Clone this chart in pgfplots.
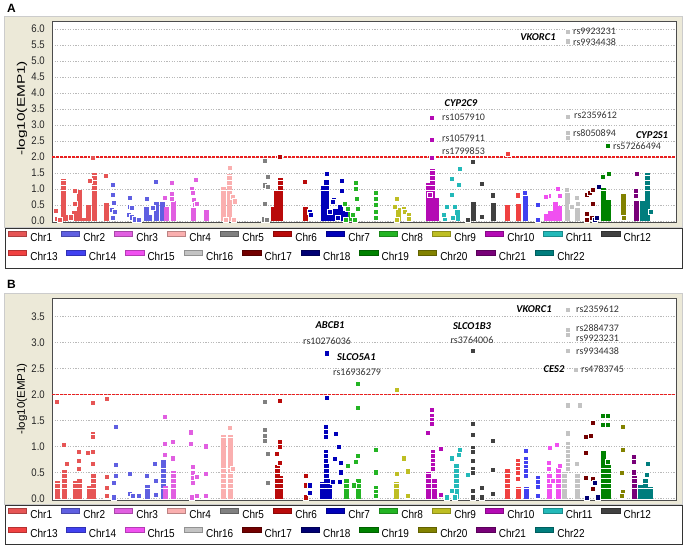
\documentclass[border=0pt]{standalone}
\usepackage{fontspec}
\usepackage{graphicx}
\usepackage{pgfplots}
\pgfplotsset{compat=1.18}
\setmainfont{Liberation Sans}
\newfontfamily\legfont{Liberation Sans}[FakeStretch=0.87]
\newfontfamily\calfont{Carlito}
\definecolor{c1}{RGB}{230,85,85}
\definecolor{c2}{RGB}{95,95,225}
\definecolor{c3}{RGB}{225,95,225}
\definecolor{c4}{RGB}{250,175,175}
\definecolor{c5}{RGB}{128,128,128}
\definecolor{c6}{RGB}{185,10,10}
\definecolor{c7}{RGB}{0,0,185}
\definecolor{c8}{RGB}{35,180,35}
\definecolor{c9}{RGB}{190,190,35}
\definecolor{c10}{RGB}{180,10,180}
\definecolor{c11}{RGB}{35,185,185}
\definecolor{c12}{RGB}{65,65,65}
\definecolor{c13}{RGB}{240,65,65}
\definecolor{c14}{RGB}{65,65,240}
\definecolor{c15}{RGB}{240,80,240}
\definecolor{c16}{RGB}{195,195,195}
\definecolor{c17}{RGB}{115,0,0}
\definecolor{c18}{RGB}{0,0,115}
\definecolor{c19}{RGB}{0,130,0}
\definecolor{c20}{RGB}{130,130,0}
\definecolor{c21}{RGB}{120,0,120}
\definecolor{c22}{RGB}{0,125,125}
\definecolor{beige}{RGB}{236,233,216}
\definecolor{thr}{RGB}{235,30,30}
\tikzset{
 rs/.style={font=\calfont\fontsize{10bp}{12bp}\selectfont, text=black!80, inner sep=0pt},
 gene/.style={font=\calfont\bfseries\itshape\fontsize{10.5bp}{12bp}\selectfont, inner sep=0pt},
}
\pgfplotsset{
 pts/.style={only marks, mark=square*, mark size=2.55bp, mark options={draw=white, line width=0.3bp}},
 col/.style={ycomb, no marks, line width=5bp, dash pattern=on 4.6bp off 0.5bp},
 thrline/.style={thr, line width=1.2bp, dash pattern=on 2.5bp off 1.5bp},
 panel/.style={scale only axis, width=624bp, anchor=south west, xmin=52, xmax=676,
   xtick=\empty, major tick length=0pt, ymajorgrids,
   grid style={gray!55, line width=0.5bp, dash pattern=on 1.2bp off 1.4bp},
   axis background/.style={fill=white},
   axis line style={draw=gray!60!black, line width=0.8bp},
   yticklabel style={/pgf/number format/fixed, /pgf/number format/fixed zerofill, /pgf/number format/precision=1, /pgf/number format/assume math mode=true},
   yticklabel style={font=\legfont\fontsize{11bp}{13bp}\selectfont, inner sep=0pt, xshift=-7bp, text=black!85},
   ylabel style={anchor=center, font=\fontsize{11bp}{13bp}\selectfont},
   clip mode=individual},
 legrow/.style={hide axis, scale only axis, width=687bp, height=548bp, xmin=0, xmax=687, ymin=0, ymax=548,
   at={(0bp,0bp)}, anchor=south west, legend columns=-1,
   legend image code/.code={\filldraw[##1, line width=0.5bp] (0bp,1.3bp) rectangle (18.5bp,6.3bp);},
   legend style={draw=none, fill=none, inner sep=0pt, outer sep=0pt,
     font=\legfont\fontsize{11.5bp}{13bp}\selectfont,
     nodes={inner sep=0pt, outer sep=0pt},
     /tikz/every odd column/.style={column sep=3.5bp},
     /tikz/every even column/.style={column sep=8.8bp}, anchor=west}},
}
\newcommand\legrowone{%
\addlegendimage{fill=c1,draw=c1!75!black}\addlegendentry{Chr1}
\addlegendimage{fill=c2,draw=c2!75!black}\addlegendentry{Chr2}
\addlegendimage{fill=c3,draw=c3!75!black}\addlegendentry{Chr3}
\addlegendimage{fill=c4,draw=c4!75!black}\addlegendentry{Chr4}
\addlegendimage{fill=c5,draw=c5!75!black}\addlegendentry{Chr5}
\addlegendimage{fill=c6,draw=c6!75!black}\addlegendentry{Chr6}
\addlegendimage{fill=c7,draw=c7!75!black}\addlegendentry{Chr7}
\addlegendimage{fill=c8,draw=c8!75!black}\addlegendentry{Chr8}
\addlegendimage{fill=c9,draw=c9!75!black}\addlegendentry{Chr9}
\addlegendimage{fill=c10,draw=c10!75!black}\addlegendentry{Chr10}
\addlegendimage{fill=c11,draw=c11!75!black}\addlegendentry{Chr11}
\addlegendimage{fill=c12,draw=c12!75!black}\addlegendentry{Chr12}}
\newcommand\legrowtwo{%
\addlegendimage{fill=c13,draw=c13!75!black}\addlegendentry{Chr13}
\addlegendimage{fill=c14,draw=c14!75!black}\addlegendentry{Chr14}
\addlegendimage{fill=c15,draw=c15!75!black}\addlegendentry{Chr15}
\addlegendimage{fill=c16,draw=c16!75!black}\addlegendentry{Chr16}
\addlegendimage{fill=c17,draw=c17!75!black}\addlegendentry{Chr17}
\addlegendimage{fill=c18,draw=c18!75!black}\addlegendentry{Chr18}
\addlegendimage{fill=c19,draw=c19!75!black}\addlegendentry{Chr19}
\addlegendimage{fill=c20,draw=c20!75!black}\addlegendentry{Chr20}
\addlegendimage{fill=c21,draw=c21!75!black}\addlegendentry{Chr21}
\addlegendimage{fill=c22,draw=c22!75!black}\addlegendentry{Chr22}}
\begin{document}
\begin{tikzpicture}[x=1bp,y=1bp]
\useasboundingbox (0,0) rectangle (687,548);
% frames
\fill[beige, draw=gray!40] (4,321) rectangle (682,532);
\fill[beige, draw=gray!40] (4,44) rectangle (682,255);
\draw[black!80, line width=0.8bp, fill=white] (5,280) rectangle (682,320);
\draw[black!80, line width=0.8bp, fill=white] (5,4) rectangle (682,43);
\node[font=\bfseries\fontsize{12bp}{14bp}\selectfont] at (11.5,540) {A};
\node[font=\bfseries\fontsize{12bp}{14bp}\selectfont] at (11.5,264) {B};

% ---------------- Panel A ----------------
\begin{axis}[panel, height=201bp, at={(52bp,326bp)}, ymin=-0.03, ymax=6.25,
  ytick={0,0.5,...,6}, ylabel={\scalebox{1.4}[1]{-log10(EMP1)}},
  ylabel style={at={(axis description cs:-0.048,0.565)}}]
\addplot[thrline] coordinates {(52,2)(676,2)};
\addplot[c1,col] coordinates {(63,1.32)(66,0.2)(74,0.3)(79,0.98)(88,0.5)(94,1.5)(106,0.55)(83,0.1)};
\addplot[c1,pts] coordinates {(56,0.32)(57,0.08)(60,0.05)(75,0.95)(93,1.97)(90,1.25)(106,1.41)(75,0.55)(71,0.12)};
\addplot[c2,col] coordinates {(146,0.45)(156,0.6)(162,0.6)(149,0.2)};
\addplot[c2,pts] coordinates {(113,1.14)(113,0.82)(114,0.58)(112,0.36)(115,0.3)(113,0.1)(130,0.72)(130,0.45)(132,0.42)(129,0.2)(132,0.12)(135,0.06)(139,0.03)(147,0.71)(156,1.24)(153,0.42)};
\addplot[c3,col] coordinates {(173,0.62)(166,0.45)(193,0.42)(206,0.34)};
\addplot[c3,pts] coordinates {(172,1.2)(172,0.86)(172,0.7)(165,0.72)(196,1.3)(192,1.02)(193,0.9)(194,0.68)(195,0.5)(197,0.55)};
\addplot[c4,col] coordinates {(223,1.07)(229,1.47)};
\addplot[c4,pts] coordinates {(230,1.68)(233,0.75)(235,0.62)(226,0.05)(234,0.05)};
\addplot[c5,pts] coordinates {(265,1.9)(268,1.38)(265,1.12)(268,1.08)(265,0.53)(264,0.06)(267,0.05)};
\addplot[c6,col] coordinates {(280,1.33)(276,0.95)(273,0.45)(305,0.45)};
\addplot[c6,pts] coordinates {(280,2.01)(305,1.22)};
\addplot[c7,col] coordinates {(326,1.28)(323,1.08)(340,0.5)(335,0.38)(329,0.38)(332,0.32)(345,0.3)};
\addplot[c7,pts] coordinates {(310,0.3)(311,0.2)(327,1.47)(334,0.68)(333,0.6)(342,1.25)(342,0.95)(338,0.1)(330,0.3)};
\addplot[c8,col] coordinates {(350,0.28)};
\addplot[c8,pts] coordinates {(345,0.55)(348,0.4)(346,0.05)(356,1.2)(356,1.0)(357,0.7)(358,0.4)(355,0.05)(353,0.2)(376,0.9)(376,0.7)(376,0.5)(376,0.3)(376,0.1)};
\addplot[c9,col] coordinates {(398,0.42)};
\addplot[c9,pts] coordinates {(397,0.71)(395,0.45)(404,0.4)(405,0.3)(409,0.2)(409,0.08)(397,0.05)};
\addplot[c10,col] coordinates {(432,1.62)(428,1.18)(436,0.72)};
\addplot[c10,pts] coordinates {(432,3.24)(432,2.55)(432,1.98)(430,0.82)};
\addplot[c11,col] coordinates {(457,0.35)};
\addplot[c11,pts] coordinates {(460,1.64)(452,1.33)(459,1.15)(452,0.82)(447,0.45)(455,0.45)(445,0.08)(453,0.1)(444,0.2)};
\addplot[c12,col] coordinates {(473,0.6)(493,0.55)};
\addplot[c12,pts] coordinates {(473,1.85)(482,1.18)(493,0.81)(482,0.13)(468,0.03)};
\addplot[c13,col] coordinates {(507,0.5)(518,0.52)};
\addplot[c13,pts] coordinates {(508,2.11)(518,0.81)};
\addplot[c14,col] coordinates {(525,0.8)};
\addplot[c14,pts] coordinates {(525,0.9)(538,0.5)(538,0.05)};
\addplot[c15,col] coordinates {(555,0.58)(550,0.32)(559,0.48)(546,0.22)};
\addplot[c15,pts] coordinates {(549,0.8)(558,1.0)(560,0.8)(546,0.75)};
\addplot[c16,col] coordinates {(567,0.92)(577,0.4)};
\addplot[c16,pts] coordinates {(568,5.91)(568,5.62)(568,3.26)(568,2.75)(568,2.6)(567,0.98)(577,0.73)(578,0.55)(572,0.45)};
\addplot[c17,pts] coordinates {(587,0.83)(590,0.88)(593,0.97)(593,0.55)(587,0.22)(587,0.05)(592,0.1)};
\addplot[c18,pts] coordinates {(599,1.08)(595,0.05)(597,0.1)};
\addplot[c19,col] coordinates {(603,1.02)(608,0.65)};
\addplot[c19,pts] coordinates {(608,2.35)(603,1.38)(609,1.47)};
\addplot[c20,col] coordinates {(623,0.85)};
\addplot[c20,pts] coordinates {(624,0.1)};
\addplot[c21,col] coordinates {(636,0.62)};
\addplot[c21,pts] coordinates {(637,1.47)(636,0.95)(636,0.8)};
\addplot[c22,col] coordinates {(647,1.5)(642,0.64)};
\addplot[c22,pts] coordinates {(651,0.3)};
\node[gene] at (axis cs:538,5.75) {VKORC1};
\node[rs,anchor=west] at (axis cs:573,5.93) {rs9923231};
\node[rs,anchor=west] at (axis cs:573,5.6) {rs9934438};
\node[gene] at (axis cs:461,3.67) {CYP2C9};
\node[rs,anchor=west] at (axis cs:442,3.24) {rs1057910};
\node[rs,anchor=west] at (axis cs:442,2.6) {rs1057911};
\node[rs,anchor=west] at (axis cs:442,2.17) {rs1799853};
\node[rs,anchor=west] at (axis cs:574,3.3) {rs2359612};
\node[rs,anchor=west] at (axis cs:573,2.75) {rs8050894};
\node[gene] at (axis cs:652,2.7) {CYP2S1};
\node[rs,anchor=west] at (axis cs:613,2.35) {rs57266494};
\end{axis}

% ---------------- Panel B ----------------
\begin{axis}[panel, height=202bp, at={(52bp,48bp)}, ymin=-0.025, ymax=3.86,
  ytick={0,0.5,...,3.5}, ylabel={\scalebox{1.05}[1]{-log10(EMP1)}},
  ylabel style={at={(axis description cs:-0.048,0.5)}}]
\addplot[thrline] coordinates {(52,2)(676,2)};
\addplot[c1,col] coordinates {(57,0.34)(64,0.55)(79,0.39)(75,0.34)(93,0.49)(89,0.24)};
\addplot[c1,pts] coordinates {(57,1.87)(64,1.04)(67,0.68)(79,0.91)(79,0.74)(79,0.57)(93,1.84)(93,1.25)(93,1.19)(93,0.9)(88,0.88)(93,0.68)(107,1.93)(107,0.43)(107,0.22)(107,0.05)};
\addplot[c2,col] coordinates {(147,0.26)(163,0.74)};
\addplot[c2,pts] coordinates {(116,1.39)(116,0.65)(116,0.45)(114,0.3)(114,0.03)(130,0.48)(130,0.1)(133,0.05)(139,0.05)(147,0.45)(155,0.68)(156,0.35)(156,0.08)};
\addplot[c3,col] coordinates {(173,0.54)(165,0.24)};
\addplot[c3,pts] coordinates {(165,1.58)(165,1.06)(165,0.85)(173,1.09)(173,0.78)(191,1.28)(191,1.06)(193,0.62)(193,0.5)(193,0.4)(193,0.3)(197,0.42)(192,0.03)(197,0.05)(206,1.01)(206,0.48)(206,0.05)};
\addplot[c4,col] coordinates {(223,1.22)(230,1.22)};
\addplot[c4,pts] coordinates {(230,1.36)(233,0.57)};
\addplot[c5,pts] coordinates {(265,1.87)(265,1.32)(265,1.22)(265,1.12)(268,0.87)(268,0.3)};
\addplot[c6,col] coordinates {(277,0.64)(280,0.44)};
\addplot[c6,pts] coordinates {(280,1.89)(280,1.1)(280,1.0)(277,0.87)(280,0.7)(306,0.45)(306,0.26)(306,0.03)};
\addplot[c7,col] coordinates {(326,0.68)(329,0.37)(322,0.32)};
\addplot[c7,pts] coordinates {(310,0.26)(310,0.12)(327,2.8)(327,1.95)(336,1.25)(339,1.0)(335,0.77)(341,0.7)(341,0.51)(333,0.32)(340,0.32)(326,1.38)(326,1.29)(326,1.2)(326,0.9)(326,0.82)(326,0.74)};
\addplot[c8,col] coordinates {(346,0.38)(358,0.38)};
\addplot[c8,pts] coordinates {(348,0.64)(358,2.21)(358,1.75)(358,0.83)(356,0.71)(354,0.26)(376,0.95)(376,0.51)(376,0.22)(376,0.13)(376,0.05)};
\addplot[c9,col] coordinates {(396,0.32)};
\addplot[c9,pts] coordinates {(397,2.1)(404,0.78)(397,0.48)(408,0.53)(408,0.05)};
\addplot[c10,col] coordinates {(428,0.52)(434,0.37)};
\addplot[c10,pts] coordinates {(432,1.71)(432,1.6)(432,1.51)(432,1.44)(428,1.27)(441,0.97)(433,0.9)(433,0.82)(433,0.74)(433,0.66)(433,0.57)(441,0.07)};
\addplot[c11,col] coordinates {(456,0.67)};
\addplot[c11,pts] coordinates {(460,0.95)(459,0.84)(452,0.78)(468,0.47)(452,0.16)(447,0.03)(455,0.03)};
\addplot[c12,pts] coordinates {(473,2.84)(473,1.44)(473,1.24)(473,0.99)(473,0.9)(473,0.74)(473,0.57)(473,0.5)(473,0.16)(473,0.03)(482,0.22)(482,0.03)(493,1.12)(493,0.55)(493,0.09)};
\addplot[c13,col] coordinates {(507,0.57)(518,0.22)};
\addplot[c13,pts] coordinates {(518,0.74)(518,0.66)(518,0.58)(518,0.5)(518,0.38)};
\addplot[c14,col] coordinates {(526,0.22)};
\addplot[c14,pts] coordinates {(526,0.93)(526,0.77)(526,0.69)(526,0.61)(526,0.53)(526,0.45)(538,0.4)(538,0.32)(538,0.24)(538,0.05)};
\addplot[c15,col] coordinates {(549,0.47)(558,0.59)};
\addplot[c15,pts] coordinates {(550,0.99)(557,1.04)(560,0.64)(549,0.7)(549,0.57)(553,0.35)};
\addplot[c16,col] coordinates {(564,0.52)(577,0.49)};
\addplot[c16,pts] coordinates {(568,3.63)(568,3.25)(568,3.15)(568,2.84)(576,2.49)(568,1.8)(580,1.8)(568,1.26)(568,1.06)(568,0.98)(568,0.9)(568,0.82)(568,0.74)(568,0.65)(568,0.57)(577,0.68)};
\addplot[c17,pts] coordinates {(593,1.47)(591,1.22)(586,1.19)(586,0.88)(586,0.4)(593,0.38)(593,0.2)};
\addplot[c18,pts] coordinates {(595,0.3)(598,0.03)(587,0.02)};
\addplot[c19,col] coordinates {(603,0.91)(608,0.64)};
\addplot[c19,pts] coordinates {(603,1.59)(608,1.59)(603,1.42)(608,1.42)(608,0.71)};
\addplot[c20,pts] coordinates {(623,1.39)(623,0.95)(622,0.5)(623,0.13)(622,0.05)};
\addplot[c21,col] coordinates {(634,0.44)};
\addplot[c21,pts] coordinates {(634,0.8)(634,0.71)(634,0.51)};
\addplot[c22,col] coordinates {(645,0.37)(640,0.27)(650,0.22)};
\addplot[c22,pts] coordinates {(648,0.68)(647,0.46)};
\node[gene] at (axis cs:330,3.34) {ABCB1};
\node[rs,anchor=west] at (axis cs:303,3.03) {rs10276036};
\node[gene,anchor=west] at (axis cs:337,2.72) {SLCO5A1};
\node[rs,anchor=west] at (axis cs:333,2.44) {rs16936279};
\node[gene] at (axis cs:472,3.32) {SLCO1B3};
\node[rs] at (axis cs:472,3.04) {rs3764006};
\node[gene] at (axis cs:534,3.65) {VKORC1};
\node[rs,anchor=west] at (axis cs:576,3.65) {rs2359612};
\node[rs,anchor=west] at (axis cs:576,3.28) {rs2884737};
\node[rs,anchor=west] at (axis cs:576,3.08) {rs9923231};
\node[rs,anchor=west] at (axis cs:576,2.84) {rs9934438};
\node[gene] at (axis cs:554,2.49) {CES2};
\node[rs,anchor=west] at (axis cs:581,2.49) {rs4783745};
\end{axis}

% ---------------- Legends ----------------
\begin{axis}[legrow, legend style={at={(axis cs:7.9,311)}}]
\legrowone
\end{axis}
\begin{axis}[legrow, legend style={at={(axis cs:7.9,292)}}]
\legrowtwo
\end{axis}
\begin{axis}[legrow, legend style={at={(axis cs:7.9,34)}}]
\legrowone
\end{axis}
\begin{axis}[legrow, legend style={at={(axis cs:7.9,15)}}]
\legrowtwo
\end{axis}
\end{tikzpicture}
\end{document}
